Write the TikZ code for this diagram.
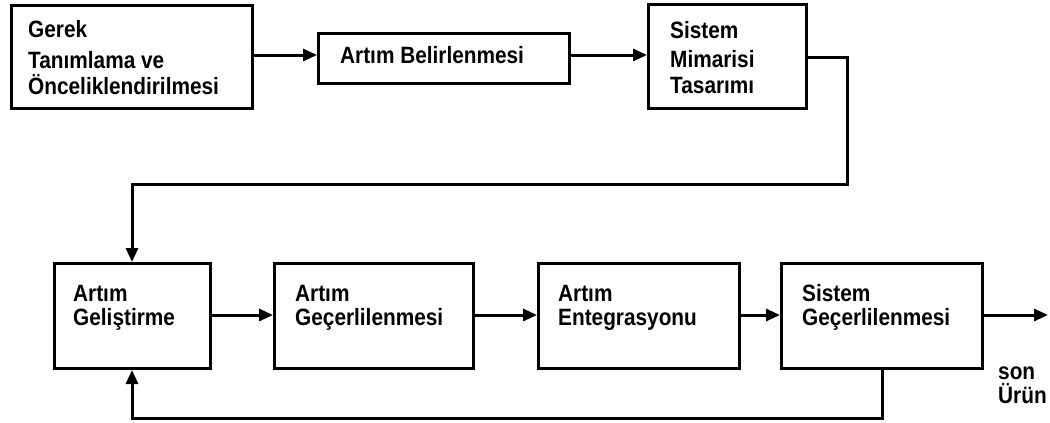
\documentclass[tikz,border=0pt]{standalone}
\usepackage{graphicx}
\usepackage{fontspec}
\setmainfont{Liberation Sans}
\usetikzlibrary{arrows.meta}
% slightly taller lettering for the stage labels
\newcommand\tallword[1]{\scalebox{1.04}[1.18]{#1}}
\begin{document}
\begin{tikzpicture}[x=1pt,y=-1pt,
  stagebox/.style={draw, line width=3pt, rectangle, inner sep=0pt, anchor=north west},
  lbl/.style={anchor=base west, inner sep=0pt, font=\fontsize{20}{24}\selectfont\bfseries},
  flow/.style={line width=3pt, -{Triangle[length=14pt,width=12pt]}},
  plain/.style={line width=3pt}]
\useasboundingbox (0,0) rectangle (1050,423);

% top row
\node[stagebox, minimum width=241pt, minimum height=103pt] (req) at (10,4) {};
\node[stagebox, minimum width=251pt, minimum height=50pt] (inc) at (317,32) {};
\node[stagebox, minimum width=158pt, minimum height=104pt] (arch) at (647,3) {};

% bottom row
\node[stagebox, minimum width=156pt, minimum height=105pt] (dev) at (53,262) {};
\node[stagebox, minimum width=199pt, minimum height=105pt] (ival) at (273,262) {};
\node[stagebox, minimum width=201pt, minimum height=105pt] (integ) at (537,262) {};
\node[stagebox, minimum width=201pt, minimum height=105pt] (sval) at (780,262) {};

% box texts
\node[lbl] (req1) at (28,37) {\tallword{Gerek}};
\node[lbl] (req2) at (28,68) {\tallword{Tanımlama ve}};
\node[lbl] (req3) at (28,94) {\tallword{Önceliklendirilmesi}};
\node[lbl] (inc1) at (340,63) {\tallword{Artım Belirlenmesi}};
\node[lbl] (arch1) at (670,38) {\tallword{Sistem}};
\node[lbl] (arch2) at (670,67) {\tallword{Mimarisi}};
\node[lbl] (arch3) at (670,93) {\tallword{Tasarımı}};
\node[lbl] (dev1) at (73,301) {\tallword{Artım}};
\node[lbl] (dev2) at (73,325) {\tallword{Geliştirme}};
\node[lbl] (ival1) at (295,301) {\tallword{Artım}};
\node[lbl] (ival2) at (295,325) {\tallword{Geçerlilenmesi}};
\node[lbl] (integ1) at (558,301) {\tallword{Artım}};
\node[lbl] (integ2) at (558,325) {\tallword{Entegrasyonu}};
\node[lbl] (sval1) at (802,301) {\tallword{Sistem}};
\node[lbl] (sval2) at (802,325) {\tallword{Geçerlilenmesi}};
\node[lbl] (out1) at (998,379) {\tallword{son}};
\node[lbl] (out2) at (998,403) {\tallword{Ürün}};

% routing points
\coordinate (r1) at (847,57);
\coordinate (r2) at (847,184);
\coordinate (r3) at (132,184);
\coordinate (d1) at (882,367);
\coordinate (d2) at (882,418);
\coordinate (d3) at (132,418);
\coordinate (fin) at (1048,315);

% connectors
\draw[flow] (req.east |- 0,55) -- (inc.west |- 0,55);
\draw[flow] (inc.east |- 0,55) -- (arch.west |- 0,55);
\draw[flow] (arch.east |- r1) -- (r1) -- (r2) -- (r3) -- (r3 |- dev.north);
\draw[flow] (dev.east |- fin) -- (ival.west |- fin);
\draw[flow] (ival.east |- fin) -- (integ.west |- fin);
\draw[flow] (integ.east |- fin) -- (sval.west |- fin);
\draw[flow] (sval.east |- fin) -- (fin);
\draw[flow] (d1) -- (d2) -- (d3) -- (d3 |- dev.south);
\end{tikzpicture}
\end{document}
